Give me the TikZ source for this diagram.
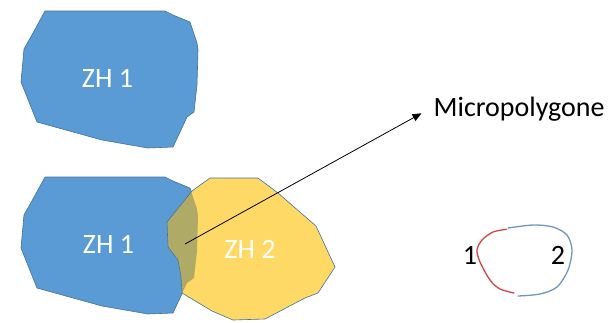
\documentclass[tikz,border=0pt]{standalone}
\usepackage{fontspec}
\setmainfont{Carlito}
\usetikzlibrary{arrows.meta}
\definecolor{zhblue}{HTML}{5B9BD5}
\definecolor{zhedge}{HTML}{41719C}
\definecolor{zhyellow}{HTML}{FFD966}
\definecolor{zholive}{HTML}{AFAA66}
\definecolor{looped}{HTML}{D04444}
\definecolor{loopblue}{HTML}{6E96C3}
\def\zhone{(45,11) -- (165,11) -- (173,15) -- (190,22) -- (197,43) -- (198,50) -- (197,85) -- (194,112) -- (187,117) -- (173,147) -- (148,148) -- (102,140) -- (37,122) -- (21,82) -- (24,49) -- (33,33) -- cycle}
\def\zhtwo{(210,178) -- (258,178) -- (278,193) -- (316,226) -- (335,267) -- (318,293) -- (305,298) -- (265,319) -- (233,320) -- (212,311) -- (182,293) -- (181,277) -- (178,260) -- (168,247) -- (167,222) -- (192,191) -- cycle}
\begin{document}
\begin{tikzpicture}[x=1pt,y=-1pt,
  txt/.style={inner sep=0pt, font=\fontsize{28}{34}\selectfont},
  zone/.style={draw=zhedge, line width=0.6pt, line join=round}]
\useasboundingbox (0,0) rectangle (613,322);
% top zone
\fill[zone, fill=zhblue] \zhone;
\node[txt, white, anchor=base] (zh1a) at (107.5,87) {ZH 1};
% bottom zones
\begin{scope}[shift={(0,166)}]
\fill[zone, fill=zhblue] \zhone;
\end{scope}
\fill[zhyellow] \zhtwo;
\begin{scope}
\clip[shift={(0,166)}] \zhone;
\fill[zholive] \zhtwo;
\end{scope}
\draw[zone] \zhtwo;
\node[txt, white, anchor=base] (zh1b) at (108.5,253) {ZH 1};
\node[txt, white, anchor=base] (zh2) at (250,258) {ZH 2};
% micropolygon arrow
\coordinate (mp) at (185,244);
\coordinate (mptip) at (421.5,113.3);
\node[txt, anchor=base west] (micro) at (433.5,116) {Micropolygone};
\draw[line width=0.8pt, -{Triangle[length=9pt,width=7.5pt]}] (mp) -- (mptip);
% loop
\draw[looped, line width=1.3pt, line cap=round] plot[smooth] coordinates {(506.7,229.3) (493,232) (482,240) (477,250) (480,262) (490,280) (500,289) (514,293)};
\draw[loopblue, line width=1.3pt, line cap=round] plot[smooth] coordinates {(508,228) (533,225) (553,227) (567,235) (572,250) (568,270) (557,287) (540,294) (518,296)};
\node[txt, anchor=base] (n1) at (470,264) {1};
\node[txt, anchor=base] (n2) at (558,264) {2};
\end{tikzpicture}
\end{document}
